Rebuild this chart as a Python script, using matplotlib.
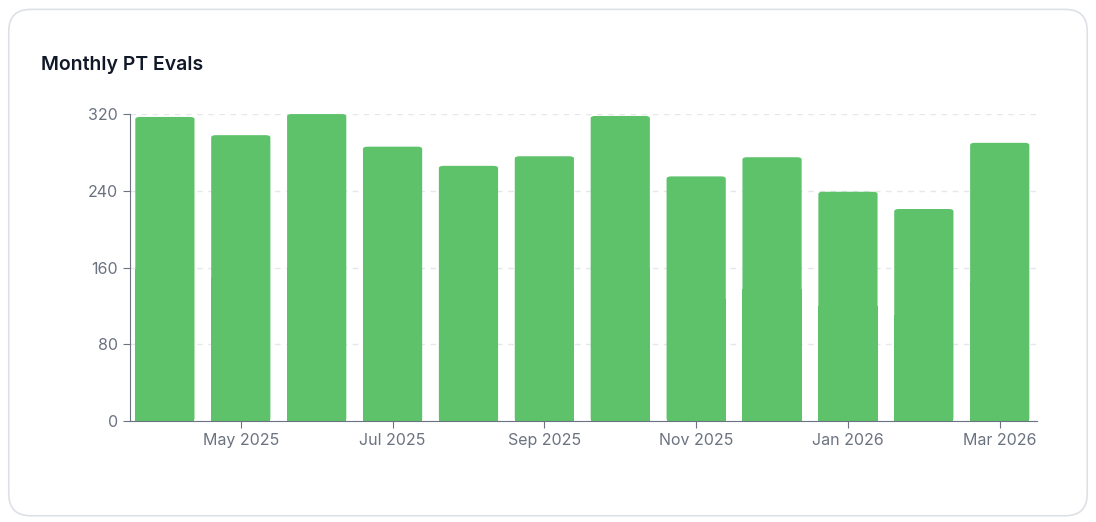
import matplotlib
matplotlib.use("Agg")
import matplotlib.pyplot as plt
from matplotlib.patches import FancyBboxPatch

months = ["Apr 2025","May 2025","Jun 2025","Jul 2025","Aug 2025","Sep 2025","Oct 2025",
          "Nov 2025","Dec 2025","Jan 2026","Feb 2026","Mar 2026"]
values = [317, 298, 320, 286, 266, 276, 318, 255, 275, 239, 221, 290]
yticks = [0, 80, 160, 240, 320]

plt.rcParams['font.family'] = ['Inter', 'DejaVu Sans']
fig = plt.figure(figsize=(10.96, 5.22), dpi=100)
card = FancyBboxPatch((0.008, 0.012), 0.984, 0.97, boxstyle="round,pad=0,rounding_size=0.02",
                      transform=fig.transFigure, facecolor="white", edgecolor="#dde1e6", lw=1.2,
                      mutation_aspect=1096/522, zorder=-10)
fig.patches.append(card)
fig.text(0.037, 0.865, "Monthly PT Evals", fontsize=14, fontweight="semibold", color="#111827")

ax = fig.add_axes([0.1186, 0.1935, 0.8275, 0.588])
ax.set_facecolor("none")
x = list(range(len(values)))
bars = ax.bar(x, values, width=0.78, color="#5ec26a")
for b in bars:
    b.set_visible(False)
    p = FancyBboxPatch((b.get_x(), 0), b.get_width(), b.get_height(),
                       boxstyle="round,pad=0,rounding_size=0.06", mutation_aspect=40,
                       facecolor="#5ec26a", edgecolor="none")
    ax.add_patch(p)
    ax.add_patch(plt.Rectangle((b.get_x(), 0), b.get_width(), b.get_height()/2,
                               facecolor="#5ec26a", edgecolor="none"))
ax.set_xlim(-0.46, 11.49)
ax.set_ylim(0, 320)
ax.set_yticks(yticks)
ax.set_xticks(x[1::2])
ax.set_xticklabels(months[1::2])
ax.yaxis.grid(True, linestyle=(0, (4, 4)), color="#e5e7eb", lw=1)
ax.set_axisbelow(True)
for s in ["top", "right"]:
    ax.spines[s].set_visible(False)
for s in ["left", "bottom"]:
    ax.spines[s].set_color("#6b7280")
ax.tick_params(colors="#6b7280", labelsize=11.5, length=5)
ax.tick_params(axis="x", pad=4)
fig.savefig("out.png", dpi=100)
